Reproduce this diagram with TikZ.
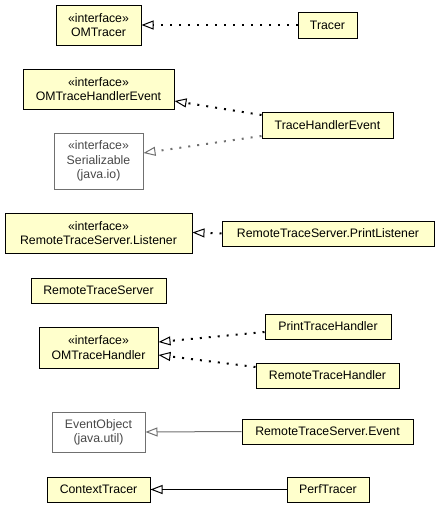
\documentclass[tikz,border=0pt]{standalone}
\usepackage{fontspec}
\setmainfont{Liberation Sans}
\usetikzlibrary{arrows.meta}
\definecolor{umlfill}{HTML}{FFFFCC}
\definecolor{extborder}{RGB}{112,112,112}
\definecolor{exttext}{RGB}{72,72,72}
\tikzset{
  cls/.style={draw=black, line width=1pt, fill=umlfill, inner sep=0pt, align=center,
    font=\fontsize{12.3}{14.3}\selectfont, text=black},
  extcls/.style={draw=extborder, line width=1pt, fill=white, inner sep=0pt, align=center,
    font=\fontsize{12.3}{14.3}\selectfont, text=exttext},
  tri/.style={-{Triangle[open, length=12pt, width=9pt, line width=1pt]}},
  realize/.style={tri, line width=2pt, dash pattern=on 2pt off 7pt},
  extend/.style={tri, line width=1pt},
}
\begin{document}
\begin{tikzpicture}[x=1pt, y=-1pt]
\useasboundingbox (0,0) rectangle (440,507);
% left column
\node[cls, minimum width=85pt, minimum height=40pt] (omtracer) at (98.5,25) {«interface»\\OMTracer};
\node[cls, minimum width=151pt, minimum height=40pt] (omthe) at (98.5,89) {«interface»\\OMTraceHandlerEvent};
\node[extcls, minimum width=89pt, minimum height=56pt] (ser) at (98.5,161) {«interface»\\Serializable\\(java.io)};
\node[cls, minimum width=187pt, minimum height=40pt] (listener) at (98.5,233) {«interface»\\RemoteTraceServer.Listener};
\node[cls, minimum width=135pt, minimum height=25pt] (rts) at (98.5,290.5) {RemoteTraceServer};
\node[cls, minimum width=119pt, minimum height=41pt] (omth) at (98.5,347.5) {«interface»\\OMTraceHandler};
\node[extcls, minimum width=93pt, minimum height=40pt] (evobj) at (98.5,432) {EventObject\\(java.util)};
\node[cls, minimum width=103pt, minimum height=25pt] (ctx) at (98.5,489.5) {ContextTracer};
% right column
\node[cls, minimum width=59pt, minimum height=26pt] (tracer) at (327.5,25) {Tracer};
\node[cls, minimum width=131pt, minimum height=26pt] (the) at (327.5,125) {TraceHandlerEvent};
\node[cls, minimum width=212pt, minimum height=25pt] (plist) at (328,233.5) {RemoteTraceServer.PrintListener};
\node[cls, minimum width=126pt, minimum height=25pt] (pth) at (328,326.5) {PrintTraceHandler};
\node[cls, minimum width=143pt, minimum height=25pt] (rth) at (327.5,375.5) {RemoteTraceHandler};
\node[cls, minimum width=171pt, minimum height=25pt] (rtsev) at (327.5,431.5) {RemoteTraceServer.Event};
\node[cls, minimum width=82pt, minimum height=25pt] (perf) at (328,489.5) {PerfTracer};
% connectors
\draw[realize] (tracer.west) -- (omtracer.east);
\draw[realize] ([yshift=10pt]the.west) -- ([yshift=-12pt]omthe.east);
\draw[realize, draw=extborder] ([yshift=-11pt]the.west) -- ([yshift=8pt]ser.east);
\draw[realize] (plist.west) -- ([yshift=0.5pt]listener.east);
\draw[realize] ([yshift=-5.5pt]pth.west) -- ([yshift=5.5pt]omth.east);
\draw[realize] ([yshift=8.5pt]rth.west) -- ([yshift=-7.5pt]omth.east);
\draw[extend, draw=extborder] (rtsev.west) -- (evobj.east);
\draw[extend, draw=black] (perf.west) -- (ctx.east);
\end{tikzpicture}
\end{document}
